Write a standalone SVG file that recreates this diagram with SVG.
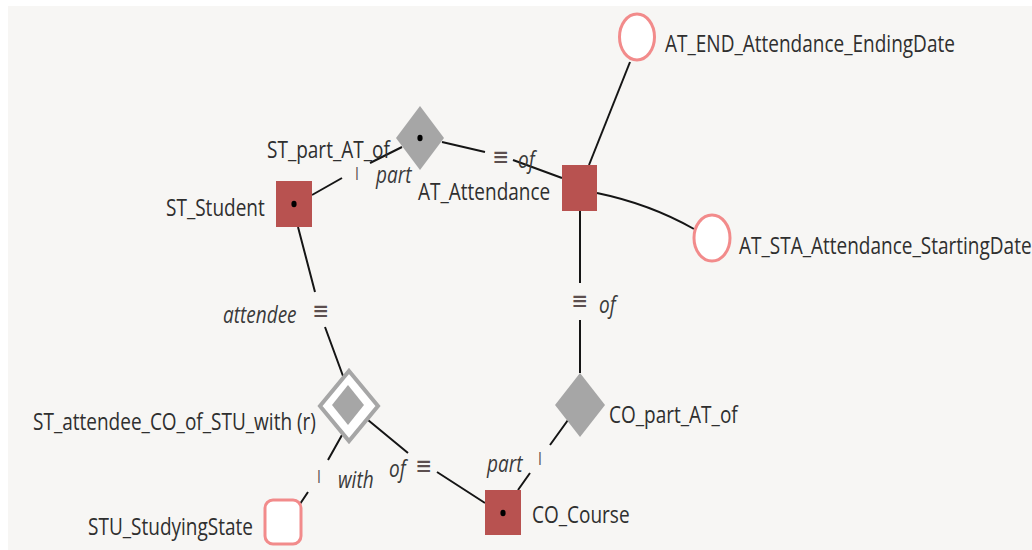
<svg xmlns="http://www.w3.org/2000/svg" width="1032" height="550" viewBox="0 0 1032 550">
<style>
.lbl{font-family:"Open Sans","Noto Sans","Liberation Sans",sans-serif;font-size:19px;fill:#2f2f2f}
.role{font-family:"Open Sans","Noto Sans","Liberation Sans",sans-serif;font-size:19px;font-style:italic;fill:#3a3a3a}
.mk{font-family:"DejaVu Sans","Liberation Sans",sans-serif;font-size:20px;fill:#5c4f4f;text-anchor:middle}
.bar{font-family:"Open Sans","Liberation Sans",sans-serif;font-size:14px;fill:#5c4f4f;text-anchor:middle}
.ent{fill:#b85250}
.fact{fill:#a6a6a6}
.val{fill:#ffffff;stroke:#f28b8b;stroke-width:3}
.dot{fill:#000}
.edge{fill:none;stroke:#151515;stroke-width:2}
</style>
<rect x="0" y="0" width="1032" height="550" fill="#ffffff"/>
<rect x="8" y="6" width="1024" height="544" fill="#f7f6f4"/>
<g id="connectors">
<path class="edge" d="M312,195 L342,178 M370,163 L402,147"/>
<path class="edge" d="M442,142 L485,152 M513,160 L562,178"/>
<path class="edge" d="M580,211 L580,283 M580,320 L580,373"/>
<path class="edge" d="M568,420 L550,445 M530,473 L518,490"/>
<path class="edge" d="M368,420 L408,453 M437,472 L485,503"/>
<path class="edge" d="M342,435 L328,460 M308,492 L300,504"/>
<path class="edge" d="M298,227 L315,292 M325,327 L343,376"/>
<path class="edge" d="M589,165 L630,62"/>
<path class="edge" d="M597,193 Q650,204 694,229"/>
<text class="bar" transform="translate(357,180) scale(1,1.25)">I</text>
<text class="role" transform="translate(376,183) scale(1,1.25)">part</text>
<text class="mk" transform="translate(501,165) scale(1,1.25)">≡</text>
<text class="role" transform="translate(518,168) scale(1,1.25)">of</text>
<text class="mk" transform="translate(580,309) scale(1,1.25)">≡</text>
<text class="role" transform="translate(599,313) scale(1,1.25)">of</text>
<text class="mk" transform="translate(321,319) scale(1,1.25)">≡</text>
<text class="role" transform="translate(223,323) scale(1,1.25)">attendee</text>
<text class="bar" transform="translate(540,465) scale(1,1.25)">I</text>
<text class="role" transform="translate(487,472) scale(1,1.25)">part</text>
<text class="mk" transform="translate(424,474) scale(1,1.25)">≡</text>
<text class="role" transform="translate(389,477) scale(1,1.25)">of</text>
<text class="bar" transform="translate(319,483) scale(1,1.25)">I</text>
<text class="role" transform="translate(338,488) scale(1,1.25)">with</text>
</g>
<g id="ST_Student">
<rect class="ent" x="276" y="181" width="36" height="46"/>
<ellipse class="dot" cx="294" cy="204" rx="2.6" ry="3.2"/>
<text class="lbl" transform="translate(166,216) scale(1,1.25)">ST_Student</text>
</g>
<g id="AT_Attendance">
<rect class="ent" x="562" y="165" width="35" height="46"/>
<text class="lbl" transform="translate(418,200) scale(1,1.25)">AT_Attendance</text>
</g>
<g id="CO_Course">
<rect class="ent" x="485" y="490" width="36" height="45"/>
<ellipse class="dot" cx="503" cy="513" rx="2.6" ry="3.2"/>
<text class="lbl" transform="translate(532,523) scale(1,1.25)">CO_Course</text>
</g>
<g id="ST_part_AT_of">
<polygon class="fact" points="420,106 444,138 420,170 396,138"/>
<ellipse class="dot" cx="420" cy="138" rx="2.6" ry="3.2"/>
<text class="lbl" transform="translate(267,158) scale(1,1.25)">ST_part_AT_of</text>
</g>
<g id="CO_part_AT_of">
<polygon class="fact" points="580,373 605,405 580,437 555,405"/>
<text class="lbl" transform="translate(609,423) scale(1,1.25)">CO_part_AT_of</text>
</g>
<g id="ST_attendee_CO_of_STU_with">
<polygon points="349,371 378,406 349,441 320,406" fill="#ffffff" stroke="#a6a6a6" stroke-width="4"/>
<polygon class="fact" points="348,385 364,405 348,425 332,405"/>
<text class="lbl" transform="translate(33,430) scale(1,1.25)">ST_attendee_CO_of_STU_with (r)</text>
</g>
<g id="STU_StudyingState">
<rect class="val" x="265" y="500" width="36" height="44" rx="8"/>
<text class="lbl" transform="translate(88,535) scale(1,1.25)">STU_StudyingState</text>
</g>
<g id="AT_END_Attendance_EndingDate">
<ellipse class="val" cx="637" cy="37" rx="17.5" ry="23"/>
<text class="lbl" transform="translate(665,52) scale(1,1.25)">AT_END_Attendance_EndingDate</text>
</g>
<g id="AT_STA_Attendance_StartingDate">
<ellipse class="val" cx="712" cy="238" rx="18" ry="23"/>
<text class="lbl" transform="translate(739,254) scale(1,1.25)">AT_STA_Attendance_StartingDate</text>
</g>
</svg>
